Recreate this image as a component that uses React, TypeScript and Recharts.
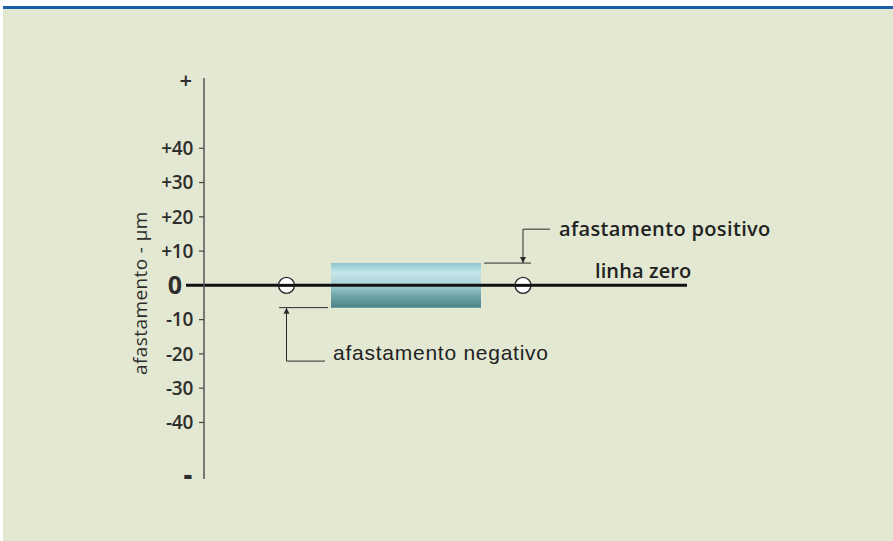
import {
    ComposedChart,
    XAxis,
    YAxis,
    Scatter,
    ReferenceArea,
    ReferenceLine,
    ReferenceDot,
    Label,
} from "recharts";

// deviation axis (µm)
const yTicks = [60, 40, 30, 20, 10, 0, -10, -20, -30, -40, -56];
const yTickLabels = ["+", "+40", "+30", "+20", "+10", "0", "-10", "-20", "-30", "-40", "-"];

// shaft (tolerance zone) drawn around the zero line
const zoneX = [25.4, 55.4];
const zoneY = [-6.5, 6.5];

// zero line extent
const zeroLineX = [-3.6, 96.6];

// markers on the zero line
const markers = [
    { x: 16.5, y: 0 },
    { x: 63.8, y: 0 },
];

// extension lines at the deviations
const lowerExt = [
    { x: 15, y: -6.5 },
    { x: 24.8, y: -6.5 },
];
const upperExt = [
    { x: 56, y: 6.5 },
    { x: 65.4, y: 6.5 },
];

// leader lines to the captions
const lowerLeader = [
    { x: 16.5, y: -6.5 },
    { x: 16.5, y: -22.1 },
    { x: 24.2, y: -22.1 },
];
const upperLeader = [
    { x: 63.8, y: 6.5 },
    { x: 63.8, y: 16.4 },
    { x: 69.2, y: 16.4 },
];

const arrows = [
    { x: 16.5, y: -6.5, dir: "up" },
    { x: 63.8, y: 6.5, dir: "down" },
];

const captions = [
    { text: "afastamento negativo", x: 25.8, y: -22.1, dy: -1.5, font: "Liberation Sans, Arial", size: 21, weight: 400, spacing: 0.75 },
    { text: "afastamento positivo", x: 71, y: 16.4, dy: 7, font: "Open Sans", size: 20, weight: 600, spacing: 0.35 },
    { text: "linha zero", x: 78.2, y: 0, dy: -7, font: "Open Sans", size: 20, weight: 600, spacing: 0.1 },
];

const BG = "#e3e8d2";
const INK = "#2b2b2b";

const YTick = (props: any) => {
    const { x, y, payload } = props;
    const v = payload.value;
    const label = yTickLabels[yTicks.indexOf(v)];
    const style = { fontFamily: "Open Sans", fill: "#2e2e2e" };
    if (v === 0) {
        return (
            <text x={x - 11} y={y + 9} textAnchor="end" fontSize={25} fontWeight={700} style={style}>
                {label}
            </text>
        );
    }
    if (label === "+" || label === "-") {
        return (
            <text
                x={x - 1}
                y={label === "+" ? y + 8 : y + 7}
                textAnchor="end"
                fontSize={label === "+" ? 22 : 26}
                fontWeight={label === "+" ? 600 : 800}
                style={style}
            >
                {label}
            </text>
        );
    }
    return (
        <g>
            <line x1={x + 6} x2={x + 11} y1={y} y2={y} stroke="#444" strokeWidth={1.2} />
            <text x={x} y={y + 6.8} textAnchor="end" fontSize={19} fontWeight={600} letterSpacing={-0.3} style={style}>
                {label}
            </text>
        </g>
    );
};

const Marker = (props: any) => {
    const { cx, cy } = props;
    return (
        <g>
            <circle cx={cx} cy={cy} r={8} fill="#fff" stroke={INK} strokeWidth={1.4} />
            <line x1={cx - 8} x2={cx + 8} y1={cy} y2={cy} stroke="#111" strokeWidth={3} />
        </g>
    );
};

const segs = (pts: { x: number; y: number }[]) =>
    pts.slice(1).map((p, i) => [pts[i], p] as [{ x: number; y: number }, { x: number; y: number }]);

export default function App() {
    return (
        <div style={{ position: "absolute", left: 0, top: 0, width: 893, height: 541, background: "#fff" }}>
            <div
                style={{
                    position: "absolute",
                    left: 3,
                    top: 6,
                    right: 0,
                    bottom: 0,
                    background: BG,
                    borderTop: "3.5px solid #1d5ea8",
                }}
            />
            <div style={{ position: "absolute", left: 0, top: 0 }}>
                <ComposedChart
                    width={893}
                    height={541}
                    margin={{ top: 78, right: 189, bottom: 62, left: 144 }}
                >
                    <defs>
                        <linearGradient id="shaft" x1="0" y1="0" x2="0" y2="1">
                            <stop offset="0%" stopColor="#8ec7cd" />
                            <stop offset="22%" stopColor="#c7e7ea" />
                            <stop offset="48%" stopColor="#a5d1d5" />
                            <stop offset="75%" stopColor="#6ca3a7" />
                            <stop offset="100%" stopColor="#4b8488" />
                        </linearGradient>
                    </defs>
                    <XAxis type="number" dataKey="x" domain={[0, 100]} hide />
                    <YAxis
                        type="number"
                        domain={[-56.5, 60.5]}
                        ticks={yTicks}
                        interval={0}
                        width={60}
                        tickSize={5}
                        tickMargin={6}
                        tickLine={false}
                        axisLine={{ stroke: "#555", strokeWidth: 1.5 }}
                        tick={<YTick />}
                    >
                        <Label
                            content={() => (
                                <text
                                    x={140}
                                    y={293}
                                    transform="rotate(-90 140 293)"
                                    textAnchor="middle"
                                    dominantBaseline="central"
                                    fontSize={19}
                                    letterSpacing={0.4}
                                    style={{ fontFamily: "Open Sans", fill: "#2e2e2e" }}
                                >
                                    afastamento - µm
                                </text>
                            )}
                        />
                    </YAxis>

                    <ReferenceArea
                        x1={zoneX[0]}
                        x2={zoneX[1]}
                        y1={zoneY[0]}
                        y2={zoneY[1]}
                        fill="url(#shaft)"
                        fillOpacity={1}
                        stroke="none"
                    />

                    <ReferenceLine
                        segment={[
                            { x: zeroLineX[0], y: 0 },
                            { x: zeroLineX[1], y: 0 },
                        ]}
                        stroke="#111"
                        strokeWidth={3}
                        ifOverflow="visible"
                    />

                    {[lowerExt, upperExt].map((pts, i) => (
                        <ReferenceLine
                            key={"ext" + i}
                            segment={[pts[0], pts[1]]}
                            stroke={INK}
                            strokeWidth={1}
                            ifOverflow="visible"
                        />
                    ))}
                    {[...segs(lowerLeader), ...segs(upperLeader)].map((s, i) => (
                        <ReferenceLine
                            key={"ld" + i}
                            segment={s}
                            stroke={INK}
                            strokeWidth={1}
                            ifOverflow="visible"
                        />
                    ))}

                    {arrows.map((a, i) => (
                        <ReferenceDot
                            key={"ar" + i}
                            x={a.x}
                            y={a.y}
                            ifOverflow="visible"
                            shape={(p: any) => {
                                const s = a.dir === "up" ? 1 : -1;
                                return (
                                    <path
                                        d={`M${p.cx},${p.cy} L${p.cx - 3},${p.cy + 6 * s} L${p.cx + 3},${p.cy + 6 * s} Z`}
                                        fill={INK}
                                    />
                                );
                            }}
                        />
                    ))}

                    <Scatter data={markers} dataKey="y" shape={<Marker />} isAnimationActive={false} />

                    {captions.map((c, i) => (
                        <ReferenceDot
                            key={"cap" + i}
                            x={c.x}
                            y={c.y}
                            ifOverflow="visible"
                            shape={(p: any) => (
                                <text
                                    x={p.cx}
                                    y={p.cy + c.dy}
                                    fontSize={c.size}
                                    fontWeight={c.weight}
                                    letterSpacing={c.spacing}
                                    style={{ fontFamily: c.font, fill: "#222" }}
                                >
                                    {c.text}
                                </text>
                            )}
                        />
                    ))}
                </ComposedChart>
            </div>
        </div>
    );
}
